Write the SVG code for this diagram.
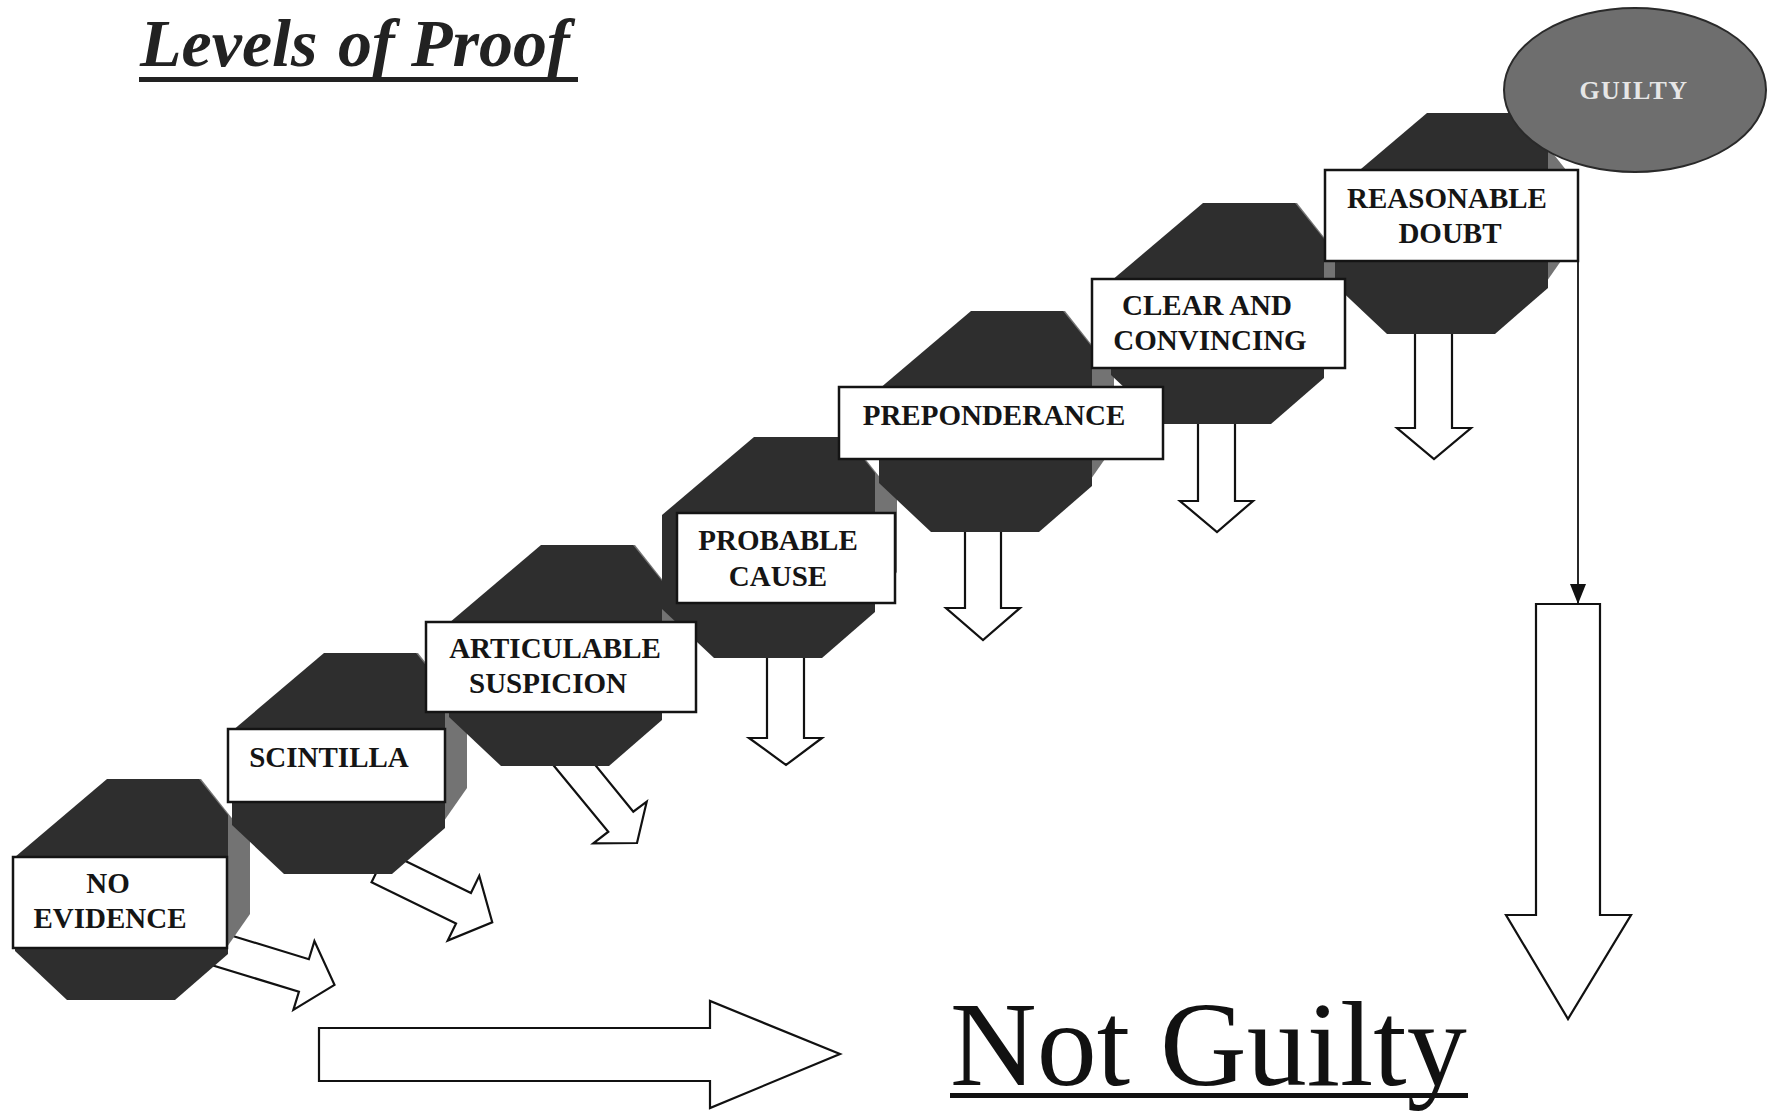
<svg xmlns="http://www.w3.org/2000/svg" xmlns:xlink="http://www.w3.org/1999/xlink" width="1773" height="1112" viewBox="0 0 1773 1112">
<style>
.blk{fill:#ffffff;stroke:#111;stroke-width:2.2;stroke-linejoin:miter}
.lbl{fill:#ffffff;stroke:#141414;stroke-width:2.5}
.lt{font-family:"Liberation Serif","Times New Roman",serif;font-weight:bold;font-size:29px;fill:#151515;text-anchor:middle}
.conn{fill:none;stroke:#111;stroke-width:1.8}
</style>
<defs>
<g id="oct">
<polygon points="140,0 186,0 235,62 235,135 205,178 140,178" fill="#737373"/>
<polygon points="92,0 184,0 213,36 213,175 160,221 52,221 0,172 0,78" fill="#2e2e2e"/>
</g>
<marker id="ah" markerUnits="userSpaceOnUse" markerWidth="20" markerHeight="16" viewBox="0 0 20 16" refX="20" refY="8" orient="auto">
<path d="M0,0 L20,8 L0,16 Z" fill="#111"/>
</marker>
</defs>
<rect width="1773" height="1112" fill="#ffffff"/>

<g id="connectors">
<path class="blk" transform="translate(214,948) rotate(17)" d="M0,-17 H94 V-36 L126,0 L94,36 V17 H0 Z"/>
<path class="blk" transform="translate(379,867) rotate(26)" d="M0,-17 H94 V-36 L126,0 L94,36 V17 H0 Z"/>
<path class="blk" d="M551.6,763 L608.3,831.7 L593.3,843.3 L637,843 L646.7,801.7 L633.3,811.7 L591.6,760.5 Z"/>
<path class="blk" d="M767,640 V738 H749 L786,765 L822,738 H804 V640 Z"/>
<path class="blk" d="M965,515 V608 H946 L983,640 L1020,608 H1001 V515 Z"/>
<path class="blk" d="M1198,405 V501 H1180 L1217,532 L1253,501 H1235 V405 Z"/>
<path class="blk" d="M1415,315 V428 H1397 L1434,459 L1471,428 H1452 V315 Z"/>
<line class="conn" x1="1578" y1="261" x2="1578" y2="604" marker-end="url(#ah)"/>
<path class="blk" d="M1536,604 V915 H1506 L1568,1019 L1631,915 H1600 V604 Z"/>
<path class="blk" d="M319,1028 H710 V1001 L840,1054 L710,1108 V1081 H319 Z"/>
</g>

<g id="octagons">
<use id="oct-no-evidence" xlink:href="#oct" transform="translate(15,779)"/>
<use id="oct-scintilla" xlink:href="#oct" transform="translate(232,653)"/>
<use id="oct-articulable" xlink:href="#oct" transform="translate(449,545)"/>
<use id="oct-probable" xlink:href="#oct" transform="translate(662,437)"/>
<use id="oct-preponderance" xlink:href="#oct" transform="translate(879,311)"/>
<use id="oct-clear" xlink:href="#oct" transform="translate(1111,203)"/>
<use id="oct-reasonable" xlink:href="#oct" transform="translate(1335,113)"/>
</g>

<g id="node-guilty">
<ellipse cx="1635" cy="90" rx="131" ry="82" fill="#6e6e6e" stroke="#2a2a2a" stroke-width="2"/>
<text x="1634" y="99" font-family="'Liberation Serif','Times New Roman',serif" font-weight="bold" font-size="26" letter-spacing="1.5" fill="#e6e6e6" text-anchor="middle">GUILTY</text>
</g>

<g id="node-no-evidence">
<rect class="lbl" x="13" y="857" width="214" height="91"/>
<text class="lt" x="108" y="893">NO</text>
<text class="lt" x="110" y="928">EVIDENCE</text>
</g>
<g id="node-scintilla">
<rect class="lbl" x="228" y="729" width="217" height="73"/>
<text class="lt" x="329" y="767">SCINTILLA</text>
</g>
<g id="node-articulable-suspicion">
<rect class="lbl" x="426" y="622" width="270" height="90"/>
<text class="lt" x="555" y="658">ARTICULABLE</text>
<text class="lt" x="548" y="693">SUSPICION</text>
</g>
<g id="node-probable-cause">
<rect class="lbl" x="677" y="513" width="218" height="90"/>
<text class="lt" x="778" y="550">PROBABLE</text>
<text class="lt" x="778" y="586">CAUSE</text>
</g>
<g id="node-preponderance">
<rect class="lbl" x="839" y="387" width="324" height="72"/>
<text class="lt" x="994" y="425">PREPONDERANCE</text>
</g>
<g id="node-clear-convincing">
<rect class="lbl" x="1092" y="279" width="253" height="89"/>
<text class="lt" x="1207" y="315">CLEAR AND</text>
<text class="lt" x="1210" y="350">CONVINCING</text>
</g>
<g id="node-reasonable-doubt">
<rect class="lbl" x="1325" y="170" width="253" height="91"/>
<text class="lt" x="1447" y="208">REASONABLE</text>
<text class="lt" x="1450" y="243">DOUBT</text>
</g>

<g id="title">
<text y="66" font-family="'Liberation Serif','Times New Roman',serif" font-weight="bold" font-style="italic" font-size="68" fill="#222"><tspan x="140">Levels</tspan><tspan x="338">of</tspan><tspan x="411">Proof</tspan></text>
<rect x="139" y="77" width="439" height="5" fill="#222"/>
</g>

<g id="node-not-guilty">
<text x="950" y="1085" font-family="'Liberation Serif','Times New Roman',serif" font-size="120" fill="#111">Not Guilty</text>
<rect x="950" y="1093" width="518" height="5" fill="#111"/>
</g>
</svg>
